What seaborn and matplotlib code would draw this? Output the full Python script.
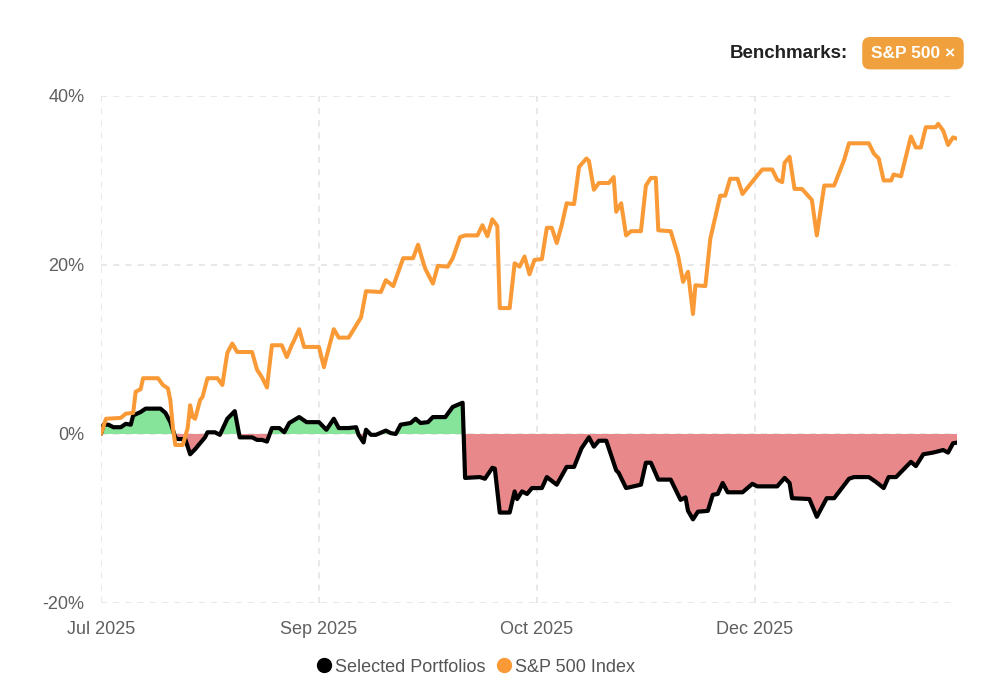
import numpy as np
import pandas as pd
import matplotlib
matplotlib.use('Agg')
import matplotlib.pyplot as plt
from matplotlib.lines import Line2D
import seaborn as sns


# ─── Data ────────────────────────────────────────────────────────────────────
# x is a step index along the time axis; month labels sit every 88 steps

TICK_STEPS = [0, 88, 176, 264]
TICK_LABELS = ['Jul 2025', 'Sep 2025', 'Oct 2025', 'Dec 2025']
Y_TICKS = [-20, 0, 20, 40]

SPX_STEP = [
    0, 2, 8, 10, 13, 14, 16, 17, 23, 25,
    27, 28, 29, 30, 33, 35, 36, 37, 38, 40,
    41, 43, 47, 49, 51, 53, 55, 61, 63, 65,
    67, 69, 73, 75, 77, 78, 80, 82, 88, 90,
    91, 94, 96, 100, 105, 107, 113, 115, 118, 122,
    126, 128, 130, 131, 134, 136, 140, 142, 145, 147,
    152, 154, 156, 158, 160, 161, 165, 167, 169, 171,
    173, 175, 178, 180, 182, 184, 186, 188, 191, 193,
    196, 197, 199, 201, 205, 207, 208, 210, 212, 214,
    218, 220, 222, 224, 225, 230, 233, 235, 237, 239,
    240, 244, 246, 250, 252, 254, 257, 259, 262, 265,
    267, 271, 273, 275, 276, 278, 280, 283, 287, 289,
    292, 296, 300, 302, 310, 312, 314, 316, 319, 320,
    323, 327, 329, 331, 333, 337, 338, 340, 342, 344,
    346,
]
SPX_RET = [
    0.0, 1.8, 1.9, 2.4, 2.5, 5.0, 5.3, 6.6, 6.6, 5.8,
    5.4, 4.0, 0.8, -1.3, -1.3, 0.7, 3.4, 2.0, 1.8, 4.0,
    4.4, 6.6, 6.6, 5.8, 9.6, 10.7, 9.7, 9.7, 7.6, 6.7,
    5.5, 10.5, 10.5, 9.1, 10.5, 11.1, 12.4, 10.3, 10.3, 7.9,
    9.1, 12.4, 11.4, 11.4, 13.8, 16.9, 16.8, 18.2, 17.5, 20.8,
    20.8, 22.4, 20.4, 19.5, 17.8, 19.9, 19.8, 20.8, 23.3, 23.5,
    23.5, 24.7, 23.4, 25.4, 24.6, 14.9, 14.9, 20.2, 19.8, 21.0,
    18.9, 20.6, 20.7, 24.4, 24.4, 22.6, 24.7, 27.3, 27.2, 31.6,
    32.6, 32.3, 28.9, 29.7, 29.7, 30.4, 26.3, 27.3, 23.5, 24.0,
    24.0, 29.4, 30.3, 30.3, 24.1, 24.0, 21.1, 18.0, 19.2, 14.2,
    17.6, 17.5, 23.1, 28.2, 28.2, 30.2, 30.2, 28.4, 29.5, 30.6,
    31.3, 31.3, 30.1, 29.8, 32.1, 32.8, 29.0, 29.0, 27.7, 23.5,
    29.4, 29.4, 32.4, 34.4, 34.4, 33.2, 32.6, 30.0, 30.0, 30.7,
    30.5, 35.2, 33.9, 33.9, 36.3, 36.3, 36.7, 35.9, 34.2, 35.1,
    34.9,
]

PORT_STEP = [
    0, 1, 3, 5, 8, 10, 12, 13, 16, 18,
    24, 26, 28, 30, 31, 34, 36, 38, 40, 42,
    43, 46, 48, 51, 54, 56, 61, 63, 65, 67,
    69, 72, 74, 76, 80, 83, 88, 91, 94, 96,
    100, 103, 104, 106, 107, 109, 111, 115, 117, 119,
    121, 125, 127, 129, 132, 134, 139, 142, 146, 147,
    153, 155, 158, 159, 161, 165, 167, 168, 170, 172,
    174, 178, 180, 184, 188, 191, 194, 197, 199, 201,
    204, 208, 209, 212, 218, 220, 222, 225, 230, 234,
    236, 237, 239, 241, 245, 247, 249, 251, 253, 259,
    263, 265, 273, 276, 278, 279, 286, 289, 293, 296,
    302, 304, 310, 313, 316, 318, 321, 327, 329, 332,
    336, 340, 342, 344, 346,
]
PORT_RET = [
    0.0, 1.1, 1.1, 0.8, 0.8, 1.2, 1.1, 2.2, 2.6, 3.0,
    3.0, 2.5, 1.4, -0.4, -0.6, -0.6, -2.4, -1.8, -1.1, -0.4,
    0.2, 0.2, -0.1, 1.8, 2.7, -0.4, -0.4, -0.7, -0.7, -0.9,
    0.7, 0.7, 0.2, 1.3, 2.0, 1.4, 1.4, 0.5, 1.8, 0.7,
    0.7, 0.8, -0.1, -1.0, 0.5, -0.1, -0.1, 0.4, 0.1, 0.0,
    1.1, 1.3, 1.8, 1.3, 1.4, 2.0, 2.0, 3.2, 3.7, -5.2,
    -5.1, -5.3, -4.0, -4.1, -9.3, -9.3, -6.8, -7.7, -6.8, -7.1,
    -6.4, -6.4, -5.1, -6.0, -3.9, -3.9, -1.7, -0.4, -1.5, -0.8,
    -0.8, -4.3, -4.6, -6.4, -6.0, -3.4, -3.4, -5.4, -5.4, -7.8,
    -7.5, -9.1, -10.1, -9.2, -9.1, -7.2, -7.1, -5.8, -6.9, -6.9,
    -5.9, -6.2, -6.2, -5.2, -5.8, -7.6, -7.7, -9.8, -7.6, -7.6,
    -5.3, -5.1, -5.1, -5.7, -6.4, -5.1, -5.1, -3.3, -3.8, -2.4,
    -2.2, -1.9, -2.2, -1.1, -1.0,
]

ORANGE = '#f99a36'
BADGE = '#f0a03c'
GREEN = '#86e39a'
RED = '#e8888b'
GRID = '#e2e2e2'


# ─── Plot ────────────────────────────────────────────────────────────────────

sns.set_theme(style='white')
plt.rcParams['font.family'] = ['Liberation Sans', 'DejaVu Sans']
plt.rcParams['lines.solid_joinstyle'] = 'round'
plt.rcParams['lines.solid_capstyle'] = 'round'

spx = pd.DataFrame({'step': SPX_STEP, 'ret': SPX_RET})
port = pd.DataFrame({'step': PORT_STEP, 'ret': PORT_RET})

fig = plt.figure(figsize=(10, 7), dpi=100)
ax = fig.add_axes([0.101, 0.1386, 0.856, 0.7243])

# gains / losses vs zero
px = port['step'].to_numpy(float)
py = port['ret'].to_numpy(float)
ax.fill_between(px, py, 0, where=py >= 0, interpolate=True,
                color=GREEN, linewidth=0, zorder=1)
ax.fill_between(px, py, 0, where=py <= 0, interpolate=True,
                color=RED, linewidth=0, zorder=1)

sns.lineplot(data=port, x='step', y='ret', ax=ax, color='black',
             linewidth=3.0, legend=False, zorder=3)
sns.lineplot(data=spx, x='step', y='ret', ax=ax, color=ORANGE,
             linewidth=2.9, legend=False, zorder=4)

ax.set_xlim(0, 345.6)
ax.set_ylim(-20, 40)
ax.set_xticks(TICK_STEPS)
ax.set_xticklabels(TICK_LABELS)
ax.set_yticks(Y_TICKS)
ax.set_yticklabels([f'{v}%' for v in Y_TICKS])
ax.set_xlabel('')
ax.set_ylabel('')

for s in ax.spines.values():
    s.set_visible(False)
ax.grid(True, color=GRID, linestyle=(0, (4, 4)), linewidth=1.1)
ax.set_axisbelow(True)
ax.tick_params(axis='both', colors=GRID, labelcolor='#5f5f5f',
               labelsize=13, width=1.1)
ax.tick_params(axis='y', length=9, pad=3)
ax.tick_params(axis='x', length=8, pad=5, direction='out')

# legend at the bottom
handles = [
    Line2D([], [], marker='o', linestyle='none', markersize=10,
           markerfacecolor='black', markeredgecolor='black'),
    Line2D([], [], marker='o', linestyle='none', markersize=10,
           markerfacecolor=ORANGE, markeredgecolor=ORANGE),
]
fig.legend(handles, ['Selected Portfolios', 'S&P 500 Index'],
           loc='center', bbox_to_anchor=(0.475, 0.047), ncol=2,
           frameon=False, fontsize=13, labelcolor='#555555',
           handletextpad=0.1, columnspacing=0.5, handlelength=1.0)

# benchmark badge top right
fig.text(0.848, 0.924, 'Benchmarks:', ha='right', va='center',
         fontsize=13.5, fontweight='bold', color='#222222')
fig.text(0.913, 0.924, 'S&P 500 \u00d7', ha='center', va='center',
         fontsize=12.5, fontweight='bold', color='white',
         bbox=dict(boxstyle='round,pad=0.5,rounding_size=0.45',
                   fc=BADGE, ec='none'))

fig.savefig('out.png', dpi=100)
plt.close(fig)
